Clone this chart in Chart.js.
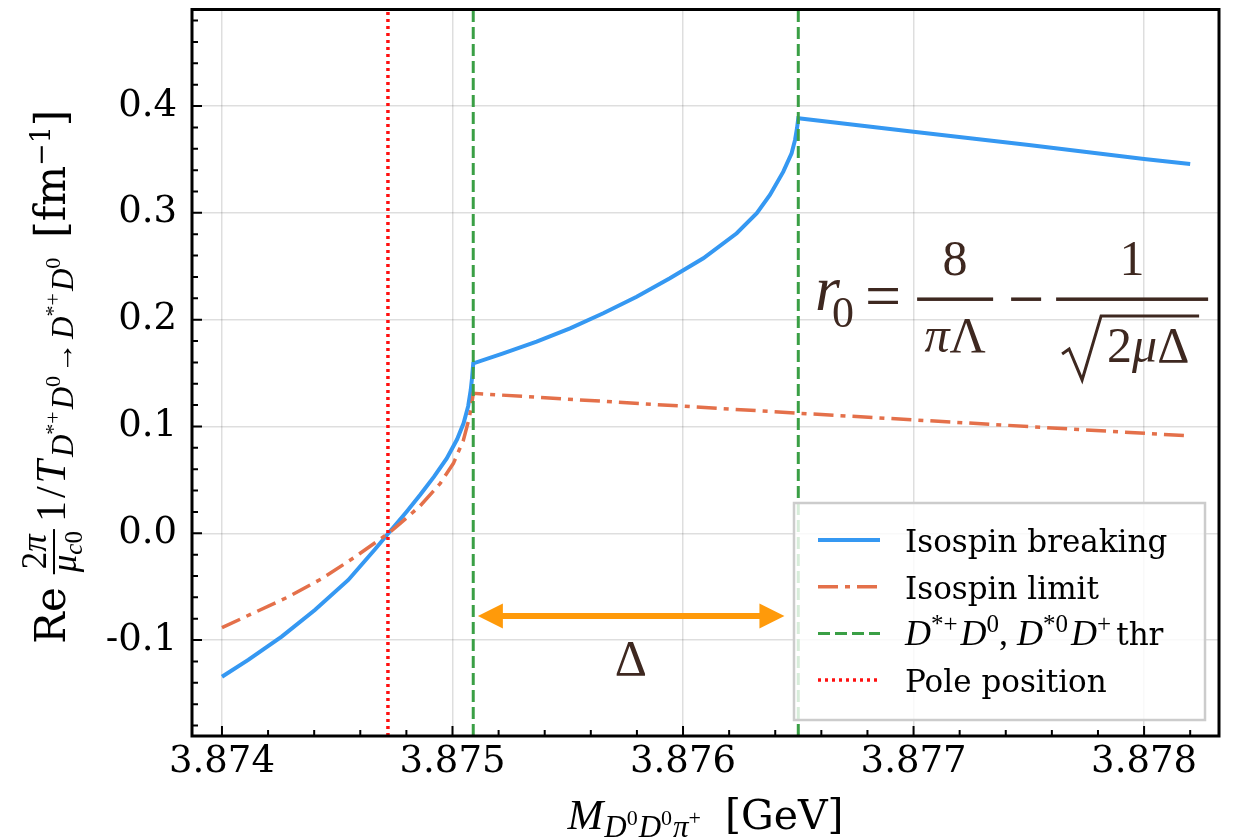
<!DOCTYPE html>
<html>
<head>
<meta charset="utf-8">
<script src="https://cdn.jsdelivr.net/npm/chart.js@4.4.0/dist/chart.umd.min.js"></script>
<style>
  html, body { margin: 0; padding: 0; background: #fff; }
  #wrap { width: 1241px; height: 839px; position: relative; }
</style>
</head>
<body>
<div id="wrap"><canvas id="chart"></canvas></div>
<script>
// values (x in GeV, y in fm^-1)
const brkX = [3.874000, 3.874114, 3.874259, 3.874403, 3.874548, 3.874664, 3.874722, 3.874800, 3.874860,
  3.874920, 3.874975, 3.875020, 3.875048, 3.875068, 3.875079, 3.875085, 3.875090, 3.875220, 3.875365,
  3.875510, 3.875654, 3.875799, 3.875943, 3.876088, 3.876233, 3.876320, 3.876377, 3.876435, 3.876471,
  3.876486, 3.876495, 3.876500, 3.877000, 3.877500, 3.878000, 3.878200];
const brkY = [-0.1343, -0.1186, -0.0968, -0.0718, -0.0437, -0.0150, 0.0000, 0.0200, 0.0360,
  0.0530, 0.0700, 0.0880, 0.1030, 0.1190, 0.1340, 0.1460, 0.1590, 0.1685, 0.1794,
  0.1919, 0.2060, 0.2215, 0.2388, 0.2575, 0.2809, 0.2996, 0.3168, 0.3386, 0.3558,
  0.3683, 0.3800, 0.3886, 0.3760, 0.3636, 0.3505, 0.3458];

const limX = [3.874000, 3.874143, 3.874288, 3.874433, 3.874577, 3.874722, 3.874772, 3.874859, 3.874946,
  3.875004, 3.875047, 3.875069, 3.875080, 3.875087, 3.875090, 3.876000, 3.876500, 3.877000, 3.877500, 3.878200];
const limY = [-0.0884, -0.0740, -0.0595, -0.0425, -0.0222, 0.0000, 0.0090, 0.0255, 0.0465,
  0.0655, 0.0870, 0.1050, 0.1160, 0.1260, 0.1310, 0.1190, 0.1124, 0.1062, 0.0999, 0.0911];

const poleX = 3.87472;
const thrX = [3.87509, 3.87650];

const xTicks = [3.874, 3.875, 3.876, 3.877, 3.878];
const yTicks = [-0.1, 0.0, 0.1, 0.2, 0.3, 0.4];
const xMin = 3.87387, xMax = 3.878325;
const yMin = -0.1898, yMax = 0.4904;

const labels = ["Isospin breaking", "Isospin limit", "D*+D0, D*0D+ thr", "Pole position"];

// annotation anchors (data coords)
const arrowFrom = 3.87511, arrowTo = 3.87644, arrowY = -0.0775;
const deltaX = 3.875774, deltaY = -0.1327;
const formulaX = 3.876573, formulaY = 0.2194;

const RM = '"DejaVu Serif", serif';
const MI = '"Liberation Serif", serif';
const BROWN = '#3e2820';

const seg = (t, f, dy = 0, k = 0) => ({ t, f, dy, k });

const yTitle = [
  seg('Re', `42px ${RM}`), { gap: 12 },
  { num: [seg('2', `35px ${MI}`), seg('π', `italic 35px ${MI}`)],
    den: [seg('μ', `italic 35px ${MI}`), seg('c', `italic 25px ${MI}`, 6), seg('0', `25px ${MI}`, 6)],
    axis: 11, nGap: 8, dGap: 22, lw: 2 },
  { gap: 6 },
  seg('1', `42px ${MI}`, 0, 3), seg('/', `42px ${MI}`, 0, 3), seg('T', `italic 42px ${MI}`, 0, 3),
  seg('D', `italic 31px ${MI}`, 8), seg('*+', `22px ${MI}`, -5, 2),
  seg('D', `italic 31px ${MI}`, 8), seg('0', `22px ${MI}`, -5, 3),
  seg('→', `31px ${MI}`, 8, 3),
  seg('D', `italic 31px ${MI}`, 8), seg('*+', `22px ${MI}`, -5, 2),
  seg('D', `italic 31px ${MI}`, 8), seg('0', `22px ${MI}`, -5),
  { gap: 20 },
  seg('[fm', `42px ${RM}`), seg('−1', `27px ${RM}`, -15), seg(']', `42px ${RM}`)
];

const xTitle = [
  seg('M', `italic 43px ${MI}`, 0, 1),
  seg('D', `italic 31px ${MI}`, 8), seg('0', `22px ${MI}`, -4, 1),
  seg('D', `italic 31px ${MI}`, 8), seg('0', `22px ${MI}`, -4, 1),
  seg('π', `italic 31px ${MI}`, 8), seg('+', `22px ${MI}`, -4),
  { gap: 24 },
  seg('[GeV]', `41px ${RM}`)
];

const thrLabel = [
  seg('D', `italic 36px ${MI}`), seg('*+', `25px ${MI}`, -13, 3),
  seg('D', `italic 36px ${MI}`), seg('0', `25px ${MI}`, -13), seg(',', `36px ${MI}`), { gap: 9 },
  seg('D', `italic 36px ${MI}`), seg('*0', `25px ${MI}`, -13, 3),
  seg('D', `italic 36px ${MI}`), seg('+', `25px ${MI}`, -13, 5), seg('thr', `31px ${RM}`)
];

function segW(ctx, s) {
  if (s.gap) return s.gap;
  if (s.num) return Math.max(runW(ctx, s.num), runW(ctx, s.den)) + 6;
  ctx.font = s.f;
  return ctx.measureText(s.t).width + (s.k || 0);
}
function runW(ctx, segs) {
  return segs.reduce((a, s) => a + segW(ctx, s), 0);
}
function drawRun(ctx, segs, x, y) {
  for (const s of segs) {
    const w = segW(ctx, s);
    if (s.num) {
      const nw = runW(ctx, s.num), dw = runW(ctx, s.den);
      const barY = y - s.axis;
      ctx.fillRect(x + 1, barY - s.lw / 2, w - 2, s.lw);
      drawRun(ctx, s.num, x + (w - nw) / 2, barY - s.nGap);
      drawRun(ctx, s.den, x + (w - dw) / 2, barY + s.dGap);
    } else if (s.t) {
      ctx.font = s.f;
      ctx.fillText(s.t, x, y + (s.dy || 0));
    }
    x += w;
  }
  return x;
}

function drawFormula(ctx, x0, by) {
  ctx.fillStyle = BROWN;
  ctx.strokeStyle = BROWN;
  ctx.textAlign = 'left';
  ctx.font = `italic 64px ${MI}`;
  ctx.fillText('r', x0, by + 11);
  ctx.font = `44px ${MI}`;
  ctx.fillText('0', x0 + 17, by + 28);
  ctx.font = `64px ${MI}`;
  ctx.fillText('=', x0 + 50, by + 18);
  // first fraction
  ctx.fillRect(x0 + 102, by - 1.5, 76, 3.5);
  ctx.textAlign = 'center';
  ctx.font = `50px ${MI}`;
  ctx.fillText('8', x0 + 140, by - 24);
  ctx.textAlign = 'left';
  ctx.font = `italic 50px ${MI}`;
  const pw = ctx.measureText('π').width;
  ctx.font = `50px ${MI}`;
  const lw = ctx.measureText('Λ').width;
  const sx = x0 + 140 - (pw + lw) / 2;
  ctx.font = `italic 50px ${MI}`;
  ctx.fillText('π', sx, by + 53);
  ctx.font = `50px ${MI}`;
  ctx.fillText('Λ', sx + pw, by + 53);
  // minus
  ctx.fillRect(x0 + 196, by - 1.5, 30, 3.5);
  // second fraction
  ctx.fillRect(x0 + 241, by - 1.5, 152, 3.5);
  ctx.textAlign = 'center';
  ctx.fillText('1', x0 + 317, by - 24);
  ctx.textAlign = 'left';
  ctx.lineWidth = 3;
  ctx.lineJoin = 'miter';
  ctx.beginPath();
  ctx.moveTo(x0 + 247, by + 55);
  ctx.lineTo(x0 + 254, by + 50);
  ctx.lineTo(x0 + 267, by + 81);
  ctx.lineTo(x0 + 286, by + 17);
  ctx.lineTo(x0 + 384, by + 17);
  ctx.stroke();
  ctx.font = `50px ${MI}`;
  ctx.fillText('2', x0 + 292, by + 63);
  const w2 = ctx.measureText('2').width;
  ctx.font = `italic 50px ${MI}`;
  ctx.fillText('μ', x0 + 292 + w2, by + 63);
  const wm = ctx.measureText('μ').width;
  ctx.font = `50px ${MI}`;
  ctx.fillText('Δ', x0 + 292 + w2 + wm, by + 63);
}

const extras = {
  id: 'extras',
  afterDatasetsDraw(chart) {
    const { ctx, chartArea: a, scales: { x, y } } = chart;
    const ds = chart.data.datasets;
    ctx.save();
    ctx.textBaseline = 'alphabetic';

    // inward ticks, major and minor
    ctx.strokeStyle = '#000';
    ctx.lineWidth = 2;
    ctx.setLineDash([]);
    ctx.beginPath();
    for (let k = Math.ceil(xMin * 5000); k <= Math.floor(xMax * 5000); k++) {
      const px = x.getPixelForValue(k / 5000);
      const len = k % 5 === 0 ? 10 : 6;
      ctx.moveTo(px, a.bottom);
      ctx.lineTo(px, a.bottom - len);
    }
    for (let k = Math.ceil(yMin * 50); k <= Math.floor(yMax * 50); k++) {
      const py = y.getPixelForValue(k / 50);
      const len = k % 5 === 0 ? 10 : 6;
      ctx.moveTo(a.left, py);
      ctx.lineTo(a.left + len, py);
    }
    ctx.stroke();

    // frame
    ctx.lineWidth = 3;
    ctx.strokeRect(a.left, a.top, a.right - a.left, a.bottom - a.top);

    // Delta arrow
    const ax0 = x.getPixelForValue(arrowFrom), ax1 = x.getPixelForValue(arrowTo);
    const ay = y.getPixelForValue(arrowY);
    ctx.strokeStyle = ctx.fillStyle = '#ff9a0a';
    ctx.lineWidth = 6;
    ctx.beginPath();
    ctx.moveTo(ax0 + 20, ay);
    ctx.lineTo(ax1 - 20, ay);
    ctx.stroke();
    for (const [tx, dir] of [[ax0, 1], [ax1, -1]]) {
      ctx.beginPath();
      ctx.moveTo(tx, ay);
      ctx.lineTo(tx + dir * 25, ay - 12.5);
      ctx.lineTo(tx + dir * 25, ay + 12.5);
      ctx.closePath();
      ctx.fill();
    }
    ctx.fillStyle = BROWN;
    ctx.textAlign = 'center';
    ctx.font = `50px ${MI}`;
    ctx.fillText('Δ', x.getPixelForValue(deltaX), y.getPixelForValue(deltaY));

    drawFormula(ctx, x.getPixelForValue(formulaX), y.getPixelForValue(formulaY));

    // legend
    const lx = a.right - 425, ly = a.bottom - 233, lwid = 411, lht = 217;
    ctx.fillStyle = 'rgba(255,255,255,0.8)';
    ctx.fillRect(lx, ly, lwid, lht);
    ctx.strokeStyle = '#cccccc';
    ctx.lineWidth = 2.5;
    ctx.strokeRect(lx, ly, lwid, lht);
    ctx.textAlign = 'left';
    labels.forEach((lab, i) => {
      const d = ds[i];
      const ry = ly + 37 + i * 46.7;
      ctx.strokeStyle = d.borderColor;
      ctx.lineWidth = d.borderWidth;
      ctx.setLineDash(d.borderDash || []);
      ctx.beginPath();
      ctx.moveTo(lx + 24, ry);
      ctx.lineTo(lx + 86, ry);
      ctx.stroke();
      ctx.setLineDash([]);
      ctx.fillStyle = '#000';
      if (i === 2) {
        drawRun(ctx, thrLabel, lx + 111, ry + 12);
      } else {
        ctx.font = `31px ${RM}`;
        ctx.fillText(lab, lx + 111, ry + 12);
      }
    });

    // axis titles
    ctx.fillStyle = '#000';
    const xw = runW(ctx, xTitle);
    drawRun(ctx, xTitle, (a.left + a.right) / 2 - xw / 2, 829);
    const yw = runW(ctx, yTitle);
    ctx.translate(65, (a.top + a.bottom) / 2 + 4);
    ctx.rotate(-Math.PI / 2);
    drawRun(ctx, yTitle, -yw / 2, 0);
    ctx.restore();
  }
};

const noPad = s => { s.paddingTop = 0; s.paddingBottom = 0; s.paddingLeft = 0; s.paddingRight = 0; };

const pts = (xs, ys) => xs.map((v, i) => ({ x: v, y: ys[i] }));

const ctx = document.getElementById('chart').getContext('2d');
const chart = new Chart(ctx, {
  type: 'scatter',
  data: {
    datasets: [
      { label: labels[0], data: pts(brkX, brkY), showLine: true, borderColor: '#3598f2',
        borderWidth: 4, pointRadius: 0, tension: 0, order: 4 },
      { label: labels[1], data: pts(limX, limY), showLine: true, borderColor: '#e4704a',
        borderWidth: 3.5, borderDash: [20, 7, 5, 7], pointRadius: 0, tension: 0, order: 3 },
      { label: labels[2], showLine: true, borderColor: '#3a9f45', borderWidth: 3, borderDash: [12, 5],
        pointRadius: 0, spanGaps: false, order: 2,
        data: [{ x: thrX[0], y: yMin }, { x: thrX[0], y: yMax }, { x: thrX[0], y: null },
               { x: thrX[1], y: yMin }, { x: thrX[1], y: yMax }] },
      { label: labels[3], showLine: true, borderColor: '#ff1010', borderWidth: 3.5, borderDash: [3, 4],
        pointRadius: 0, order: 1,
        data: [{ x: poleX, y: yMin }, { x: poleX, y: yMax }] }
    ]
  },
  options: {
    responsive: true,
    maintainAspectRatio: false,
    animation: false,
    layout: { padding: { left: 0, top: 9.5, right: 22, bottom: 0 } },
    plugins: { legend: { display: false }, tooltip: { enabled: false } },
    scales: {
      x: {
        type: 'linear',
        min: xMin,
        max: xMax,
        afterBuildTicks: s => { s.ticks = xTicks.map(v => ({ value: v })); },
        afterFit: s => { s.height = 103; noPad(s); },
        grid: { color: 'rgba(0,0,0,0.13)', lineWidth: 1.5, drawTicks: false },
        border: { display: false },
        ticks: {
          autoSkip: false, maxRotation: 0, padding: 4, color: '#000',
          font: { family: 'DejaVu Serif', size: 37 },
          callback: v => v.toFixed(3)
        }
      },
      y: {
        type: 'linear',
        min: yMin,
        max: yMax,
        afterBuildTicks: s => { s.ticks = yTicks.map(v => ({ value: v })); },
        afterFit: s => { s.width = 192; noPad(s); },
        grid: { color: 'rgba(0,0,0,0.13)', lineWidth: 1.5, drawTicks: false },
        border: { display: false },
        ticks: {
          padding: 15, color: '#000',
          font: { family: 'DejaVu Serif', size: 37 },
          callback: v => v.toFixed(1)
        }
      }
    }
  },
  plugins: [extras]
});
</script>
</body>
</html>
